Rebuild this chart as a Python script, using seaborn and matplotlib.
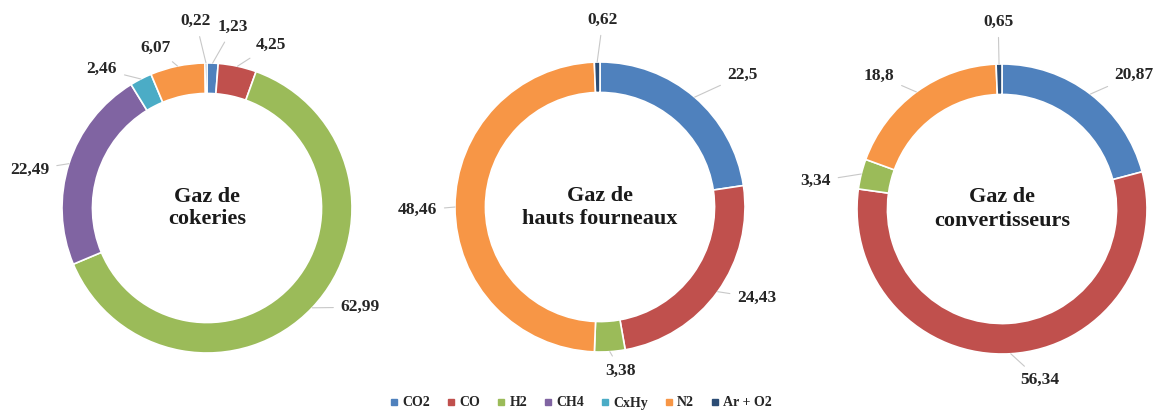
import numpy as np
import matplotlib
matplotlib.use("Agg")
import matplotlib.pyplot as plt
import seaborn as sns
from matplotlib.lines import Line2D

sns.set_style("white")
plt.rcParams["font.family"] = ["Liberation Serif", "DejaVu Serif"]
plt.rcParams["font.weight"] = "bold"

gases = ["CO2", "CO", "H2", "CH4", "CxHy", "N2", "Ar + O2"]
colors = ["#4F81BD", "#C0504D", "#9BBB59", "#8064A2", "#4BACC6", "#F79646", "#2C4D75"]

titles = ["Gaz de\ncokeries", "Gaz de\nhauts fourneaux", "Gaz de\nconvertisseurs"]
cokeries = [1.23, 4.25, 62.99, 22.49, 2.46, 6.07, 0.22]
hauts_fourneaux = [22.5, 24.43, 3.38, 0.0, 0.0, 48.46, 0.62]
convertisseurs = [20.87, 56.34, 3.34, 0.0, 0.0, 18.8, 0.65]
series = [cokeries, hauts_fourneaux, convertisseurs]

# label placement: (angle shift from slice middle in degrees, radius)
nudges = [
    {0: (-6, 1.26), 1: (-9.3, 1.21), 2: (10.6, 1.26), 3: (5.7, 1.25),
     4: (10, 1.2), 5: (5.9, 1.16), 6: (3, 1.29)},
    {0: (-6.5, 1.34), 1: (5.7, 1.25), 2: (3.4, 1.14), 5: (1, 1.26), 6: (-2, 1.29)},
    {0: (-7, 1.3), 1: (9, 1.21), 2: (5.5, 1.3), 5: (6.5, 1.25), 6: (0, 1.29)},
]

fig = plt.figure(figsize=(11.58, 4.16), dpi=100)
W, H = 1158, 416
R = 145
centers = [(207, 208), (600, 207), (1002, 209)]
half = 1.4 * R

for vals, title, (cx, cy), nud in zip(series, titles, centers, nudges):
    ax = fig.add_axes([(cx - half) / W, (H - cy - half) / H, 2 * half / W, 2 * half / H])
    vals = np.array(vals)
    keep = vals > 0
    wedges, _ = ax.pie(vals[keep], colors=np.array(colors)[keep], startangle=90,
                       counterclock=False, radius=1.0,
                       wedgeprops=dict(width=0.21, edgecolor="white", linewidth=1.2))
    idx = np.where(keep)[0]
    for w, i in zip(wedges, idx):
        mid = (w.theta1 + w.theta2) / 2
        da, rr = nud.get(i, (0, 1.24))
        ang = np.deg2rad(mid + da)
        tx, ty = rr * np.cos(ang), rr * np.sin(ang)
        m = np.deg2rad(mid)
        label = f"{vals[i]:g}".replace(".", ",")
        ax.annotate(label, xy=(np.cos(m), np.sin(m)), xytext=(tx, ty),
                    ha="center", va="center", fontsize=12.5, fontweight="bold",
                    color="#262626",
                    arrowprops=dict(arrowstyle="-", color="#C8C8C8", lw=0.8,
                                    shrinkA=3, shrinkB=0))
    ax.text(0, 0, title, ha="center", va="center", fontsize=16,
            fontweight="bold", color="#1a1a1a", linespacing=1.2)
    ax.set_xlim(-1.4, 1.4)
    ax.set_ylim(-1.4, 1.4)
    ax.set_aspect("equal")
    ax.axis("off")

handles = [Line2D([0], [0], marker="s", linestyle="", markersize=4.5,
                  markerfacecolor=c, markeredgecolor=c) for c in colors]
fig.legend(handles, gases, loc="center", bbox_to_anchor=(0.5, 1 - 403 / H),
           ncol=len(gases), frameon=False, handletextpad=0.0, handlelength=1.2,
           columnspacing=0.9, prop={"weight": "bold", "size": 10})

fig.savefig("out.png", dpi=100)
